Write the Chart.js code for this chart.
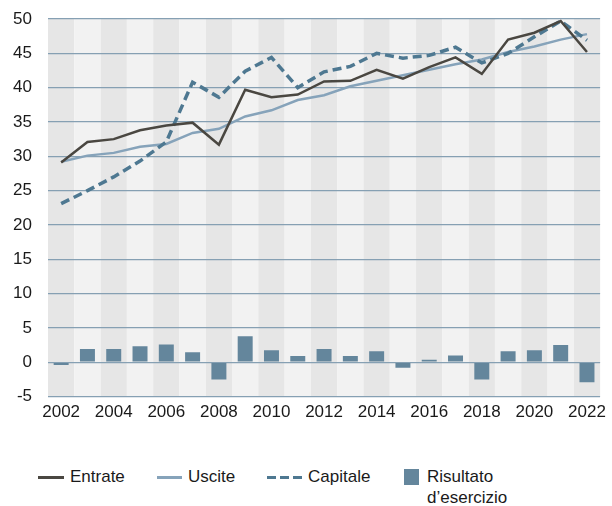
<!DOCTYPE html>
<html>
<head>
<meta charset="utf-8">
<script src="https://cdn.jsdelivr.net/npm/chart.js@4/dist/chart.umd.min.js"></script>
<style>
    body { margin: 0; background: #fff; font-family: "Liberation Sans", Arial, sans-serif; }
    #wrap { position: relative; width: 612px; height: 506px; }
    #box { position: absolute; left: 0; top: 0; width: 612px; height: 429px; }
    .legend { position: absolute; top: 466px; font-size: 17px; color: #1a1a1a; line-height: 21px; }
    .sw { position: absolute; top: 10px; height: 3px; }
</style>
</head>
<body>
<div id="wrap">
    <div id="box"><canvas id="chart"></canvas></div>
    <div class="legend" style="left:38px;"><span class="sw" style="left:0;width:26px;background:#4a4741;"></span><span style="margin-left:32px;">Entrate</span></div>
    <div class="legend" style="left:157px;"><span class="sw" style="left:0;width:25px;background:#86a3ba;"></span><span style="margin-left:31px;">Uscite</span></div>
    <div class="legend" style="left:267px;"><span class="sw" style="left:0;width:35px;background:repeating-linear-gradient(90deg,#4e7891 0 9px,transparent 9px 13px);"></span><span style="margin-left:41px;">Capitale</span></div>
    <div class="legend" style="left:404px;"><span style="position:absolute;left:0;top:3px;width:15px;height:16px;background:#64869c;"></span><div style="margin-left:23px;">Risultato<br>d’esercizio</div></div>
</div>
<script>
const years = ['2002', '2003', '2004', '2005', '2006', '2007', '2008', '2009', '2010', '2011', '2012',
    '2013', '2014', '2015', '2016', '2017', '2018', '2019', '2020', '2021', '2022'];
const entrate = [29.1, 32.1, 32.5, 33.8, 34.5, 34.9, 31.7, 39.7, 38.6, 39.0, 40.9,
    41.0, 42.6, 41.3, 43.0, 44.4, 42.0, 47.0, 48.0, 49.7, 45.2];
const uscite = [29.2, 30.1, 30.5, 31.4, 31.8, 33.4, 34.0, 35.8, 36.7, 38.2, 38.9,
    40.2, 41.0, 41.8, 42.6, 43.4, 44.1, 45.2, 46.0, 47.0, 47.8];
const capitale = [23.1, 25.0, 27.0, 29.3, 32.1, 40.8, 38.6, 42.4, 44.4, 40.0, 42.3,
    43.1, 45.0, 44.3, 44.7, 45.9, 43.6, 45.0, 47.4, 49.7, 46.9];
const risultato = [-0.4, 1.95, 1.95, 2.35, 2.6, 1.45, -2.5, 3.8, 1.75, 0.9, 1.95,
    0.9, 1.6, -0.8, 0.35, 1.0, -2.5, 1.6, 1.75, 2.5, -2.9];
const yTicks = [-5, 0, 5, 10, 15, 20, 25, 30, 35, 40, 45, 50];

// alternating grey column bands behind the grid
const bandsPlugin = {
    id: 'bands',
    beforeDraw(chart) {
        const { ctx, chartArea, scales } = chart;
        const x = scales.x;
        const w = x.getPixelForValue(1) - x.getPixelForValue(0);
        ctx.save();
        years.forEach((_, i) => {
            const c = x.getPixelForValue(i);
            ctx.fillStyle = i % 2 === 0 ? '#e6e6e6' : '#f2f2f2';
            ctx.fillRect(c - w / 2, chartArea.top, w, chartArea.bottom - chartArea.top);
        });
        ctx.restore();
    }
};

const ctx = document.getElementById('chart').getContext('2d');
new Chart(ctx, {
    type: 'bar',
    data: {
        labels: years,
        datasets: [
            {
                type: 'line',
                label: 'Entrate',
                data: entrate,
                borderColor: '#4a4741',
                borderWidth: 2.5,
                pointRadius: 0,
                tension: 0,
                order: 1
            },
            {
                type: 'line',
                label: 'Uscite',
                data: uscite,
                borderColor: '#86a3ba',
                borderWidth: 2.5,
                pointRadius: 0,
                tension: 0,
                order: 3
            },
            {
                type: 'line',
                label: 'Capitale',
                data: capitale,
                borderColor: '#4e7891',
                borderWidth: 3.5,
                borderDash: [9, 5],
                pointRadius: 0,
                tension: 0,
                order: 2
            },
            {
                label: "Risultato d'esercizio",
                data: risultato,
                backgroundColor: '#64869c',
                categoryPercentage: 1,
                barPercentage: 0.57,
                order: 4
            }
        ]
    },
    options: {
        responsive: true,
        maintainAspectRatio: false,
        animation: false,
        layout: { padding: { top: 19, right: 5, bottom: 0, left: 0 } },
        plugins: {
            legend: { display: false },
            tooltip: { enabled: false }
        },
        scales: {
            x: {
                grid: { display: false, drawTicks: false },
                border: { display: false },
                ticks: {
                    autoSkip: false,
                    maxRotation: 0,
                    padding: 6,
                    color: '#1a1a1a',
                    font: { family: 'Liberation Sans', size: 17 },
                    callback: (v, i) => (i % 2 === 0 ? years[i] : '')
                }
            },
            y: {
                min: -5,
                max: 50,
                afterFit(scale) { scale.width = 48; },
                afterBuildTicks(scale) { scale.ticks = yTicks.map(v => ({ value: v })); },
                grid: {
                    drawTicks: true,
                    tickLength: 16,
                    tickColor: 'rgba(0,0,0,0)',
                    color: '#86a0b3',
                    lineWidth: 1.3
                },
                border: { display: false },
                ticks: {
                    padding: 0,
                    color: '#1a1a1a',
                    font: { family: 'Liberation Sans', size: 17 }
                }
            }
        }
    },
    plugins: [bandsPlugin]
});
</script>
</body>
</html>
